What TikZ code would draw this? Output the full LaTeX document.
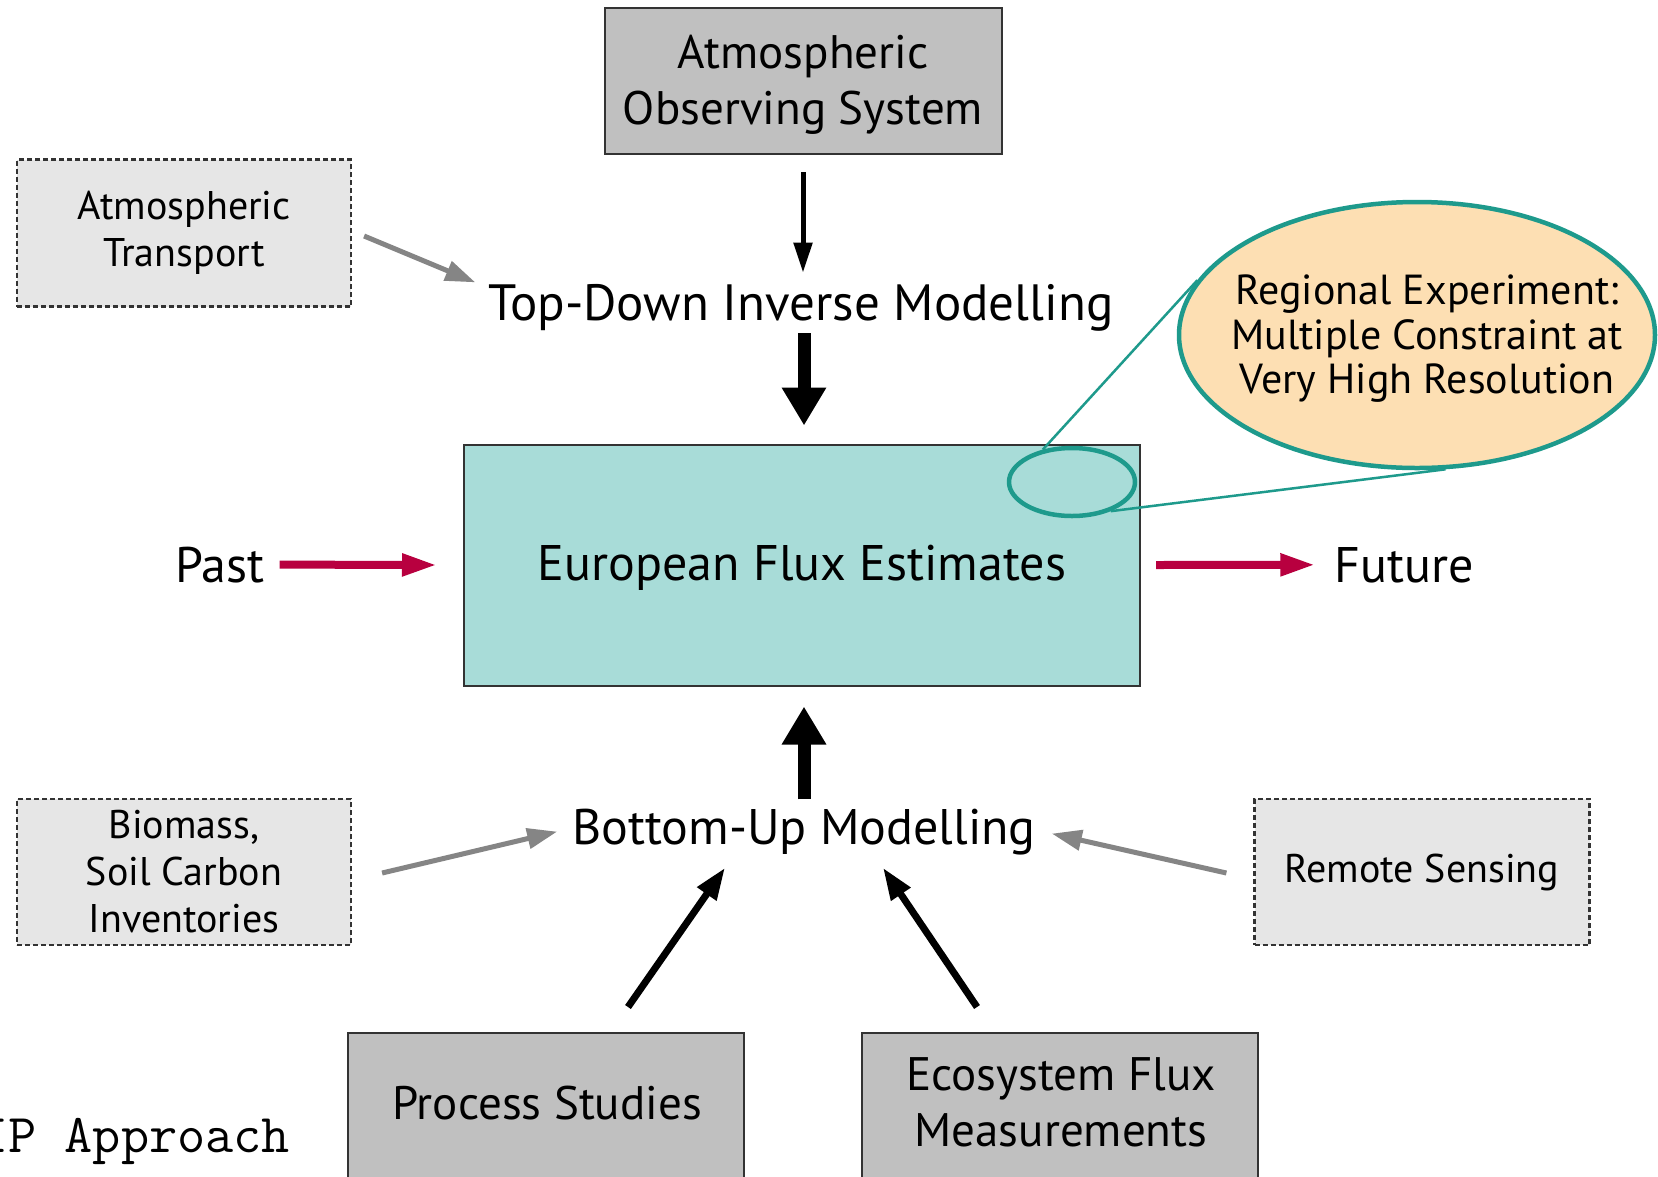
\documentclass[tikz,border=0pt]{standalone}
\usepackage{fontspec}
\setmainfont{PT Sans}
\usepackage{graphicx}
\usetikzlibrary{arrows.meta,shapes.geometric,calc}
\definecolor{boxgray}{HTML}{C0C0C0}
\definecolor{dashgray}{HTML}{E6E6E6}
\definecolor{tealfill}{HTML}{A8DCD8}
\definecolor{tealline}{HTML}{1E9A8C}
\definecolor{peach}{HTML}{FDDFB3}
\definecolor{crimson}{HTML}{B8003F}
\definecolor{arrowgray}{HTML}{858585}
\definecolor{edgegray}{HTML}{333333}
\begin{document}
\begin{tikzpicture}[x=1pt,y=-1pt,
  solidbox/.style={draw=edgegray, line width=2pt, fill=boxgray, align=center, inner sep=0pt, font=\fontsize{47}{56}\selectfont},
  dashbox/.style={draw=edgegray, line width=2.2pt, dash pattern=on 5pt off 3pt, fill=dashgray, align=center, inner sep=0pt, font=\fontsize{40}{47}\selectfont},
  boxtext/.style={align=center, inner sep=0pt, font=\fontsize{47}{56}\selectfont},
  biglabel/.style={inner sep=0pt, font=\fontsize{50}{60}\selectfont},
  thickarrow/.style={line width=13pt, -{Triangle[length=38pt,width=42pt]}},
  thinarrow/.style={line width=5pt, -{Triangle[length=30pt,width=18pt]}},
  diagarrow/.style={line width=7pt, -{Triangle[length=32pt,width=22pt]}},
  grayarrow/.style={draw=arrowgray, line width=5pt, -{Triangle[length=30pt,width=20pt]}},
  timearrow/.style={draw=crimson, line width=8pt, -{Triangle[length=35pt,width=21pt]}},
  tealedge/.style={draw=tealline, line width=4.5pt}
]
\clip (0,0) rectangle (1658,1176);
\fill[white] (0,0) rectangle (1658,1176);

% boxes
\node[solidbox, minimum width=397pt, minimum height=146pt] (obs) at (803,81) {};
\node[boxtext] (obst) at (803,85) {Atmospheric\\Observing System};
\node[dashbox, minimum width=334pt, minimum height=147pt] (trans) at (184,233) {Atmospheric\\Transport};
\node[dashbox, minimum width=334pt, minimum height=146pt] (bio) at (184,872) {Biomass,\\Soil Carbon\\Inventories};
\node[dashbox, minimum width=335pt, minimum height=146pt] (rs) at (1422,872) {Remote Sensing};
\node[draw=edgegray, line width=2pt, fill=tealfill, minimum width=676pt, minimum height=241pt] (euro) at (802,565) {};
\node[biglabel] (eurot) at (802,568) {European Flux Estimates};
\node[solidbox, minimum width=396pt, minimum height=200pt, anchor=north] (proc) at (546,1032) {};
\node[boxtext] (proct) at (547,1103) {Process Studies};
\node[solidbox, minimum width=396pt, minimum height=200pt, anchor=north] (eco) at (1060,1032) {};
\node[boxtext] (ecot) at (1061,1102) {Ecosystem Flux\\Measurements};

% labels
\node[biglabel, anchor=base, font=\fontsize{51}{60}\selectfont] (td) at (801,320) {Top-Down Inverse Modelling};
\node[biglabel, anchor=base] (bu) at (804,844) {Bottom-Up Modelling};
\node[biglabel, anchor=base] (past) at (220,582) {Past};
\node[biglabel, anchor=base] (future) at (1404,582) {Future};
\node[anchor=base west, inner sep=0pt, font=\ttfamily\fontsize{54.7}{60}\selectfont] (ip) at (-20,1152) {IP Approach};

% zoom ellipse
\node[ellipse, tealedge, minimum width=126pt, minimum height=68pt] (spot) at (1072,482) {};
\node[ellipse, tealedge, fill=peach, minimum width=476pt, minimum height=266pt] (regional) at (1417,335) {};
\node[align=center, inner sep=0pt, font=\fontsize{42}{44.5}\selectfont] (regionalt) at (1427,339) {Regional Experiment:\\Multiple Constraint at\\Very High Resolution};
\draw[tealline, line width=2.5pt] (spot.132) -- (regional.166);
\draw[tealline, line width=2.5pt] (spot.-37) -- (regional.-78);

% arrows
\draw[thinarrow, shorten <=17pt, shorten >=11pt] (obs.south) -- (obs.south |- td.north);
\draw[thickarrow] ($(euro.north |- td.south)+(2,2)$) -- ($(euro.north)+(2,-18)$);
\draw[thickarrow] ($(euro.south |- bu.north)+(2,-9)$) -- ($(euro.south)+(2,20)$);
\draw[grayarrow] ($(trans.east)+(12,3)$) -- ($(td.west)+(-13,-25)$);
\draw[grayarrow] ($(bio.east)+(30,1)$) -- ($(bu.west)+(-15,0)$);
\draw[grayarrow] ($(rs.west)+(-27,1)$) -- ($(bu.east)+(16,2)$);
\draw[diagarrow] ($(proc.north)+(82,-25)$) -- ($(bu.south)+(-79,13)$);
\draw[diagarrow] ($(eco.north)+(-83,-25)$) -- ($(bu.south)+(79,13)$);
\draw[timearrow] ($(past.east)+(15,0)$) -- ($(euro.west)+(-26,0)$);
\draw[timearrow] ($(euro.east)+(15,0)$) -- ($(future.west)+(-19,0)$);
\end{tikzpicture}
\end{document}
